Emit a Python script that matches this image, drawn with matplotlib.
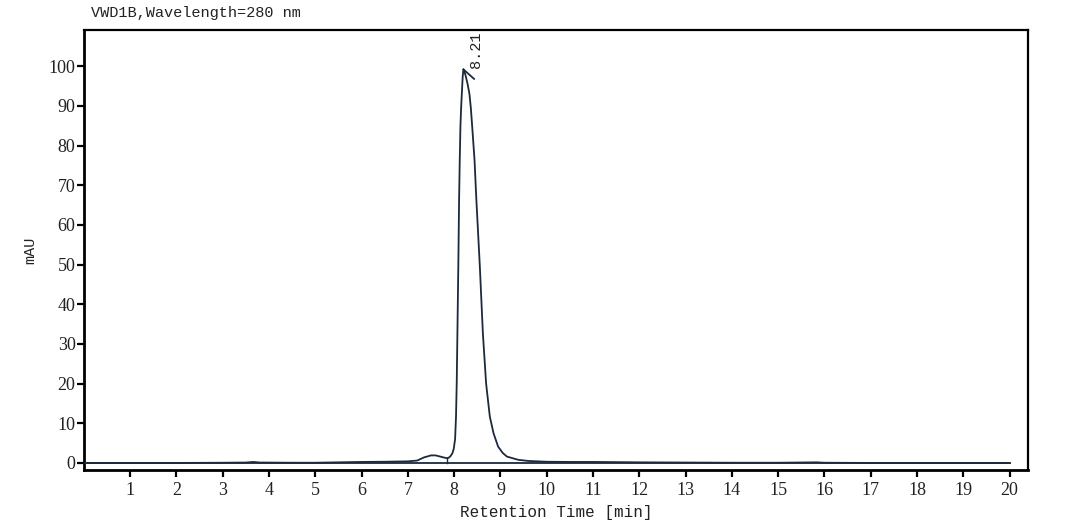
import matplotlib
matplotlib.use("Agg")
import matplotlib.pyplot as plt

# -----------------------------
# Data
# -----------------------------
time_min = [0, 1, 2, 3, 3.5, 3.66, 3.8, 4.5, 5, 5.5, 6, 6.5, 7.0, 7.2, 7.35, 7.5,
            7.6, 7.7, 7.8, 7.84, 7.88, 7.92, 7.96, 7.99, 8.02, 8.04, 8.055, 8.07,
            8.09, 8.106, 8.12, 8.135, 8.15, 8.165, 8.185, 8.2, 8.215, 8.25, 8.29,
            8.33, 8.36, 8.39, 8.44, 8.48, 8.555, 8.62, 8.69, 8.77, 8.85, 8.95,
            9.05, 9.14, 9.38, 9.6, 10, 10.5, 11, 11.5, 12, 13, 14, 15, 15.83,
            16, 17, 18, 19, 20]
signal_mau = [0.0, 0.0, 0.0, 0.05, 0.1, 0.25, 0.1, 0.05, 0.05, 0.15, 0.25, 0.3,
              0.4, 0.6, 1.4, 1.9, 1.9, 1.6, 1.3, 1.2, 1.3, 1.7, 2.4, 3.5, 6.0,
              11.7, 20.0, 32.7, 50.0, 66.0, 76.0, 84.7, 89.5, 93.0, 97.5, 99.2,
              98.9, 97.5, 95.5, 93.0, 89.5, 84.7, 76.3, 66.2, 49.4, 32.7, 20.0,
              11.7, 7.5, 4.1, 2.5, 1.6, 0.8, 0.5, 0.3, 0.25, 0.25, 0.2, 0.15,
              0.1, 0.05, 0.05, 0.15, 0.05, 0.0, 0.0, 0.0, 0.0]

peak_time = 8.2
peak_height = 99.2
valley_time = 7.84
valley_height = 1.2

x_ticks = list(range(1, 21))
y_ticks = list(range(0, 101, 10))

LINE_COLOR = "#1c2a3c"
NUM_FONT = "Liberation Serif"
MONO_FONT = "Liberation Mono"

# -----------------------------
# Plot
# -----------------------------
fig = plt.figure(figsize=(10.75, 5.28), dpi=100)
ax = fig.add_axes([0.078, 0.110, 0.878, 0.833])

ax.plot(time_min, signal_mau, color=LINE_COLOR, lw=1.3, zorder=3)
# baseline + drop line
ax.plot([0, 20], [0, 0], color=LINE_COLOR, lw=1.3, zorder=2)
ax.plot([valley_time, valley_time], [0, valley_height], color=LINE_COLOR, lw=1.0)
# peak marker and label
ax.plot([peak_time, peak_time + 0.23], [peak_height, peak_height - 2.4],
        color=LINE_COLOR, lw=1.3)
ax.text(peak_time + 0.13, peak_height + 0.4, "8.21", rotation=90,
        ha="left", va="bottom", fontsize=11, family=MONO_FONT, color="#222222")

ax.set_xlim(0, 20.39)
ax.set_ylim(-1.76, 109.1)
ax.set_xticks(x_ticks)
ax.set_yticks(y_ticks)

for lab in ax.get_xticklabels() + ax.get_yticklabels():
    lab.set_family(NUM_FONT)
    lab.set_fontsize(13)
    lab.set_color("#222222")

ax.tick_params(axis="both", direction="out", length=5, width=1.6, color="black")
ax.tick_params(axis="x", pad=4)
ax.tick_params(axis="y", pad=1)

for side in ["left", "bottom"]:
    ax.spines[side].set_linewidth(2.0)
for side in ["top", "right"]:
    ax.spines[side].set_linewidth(1.6)

ax.set_xlabel("Retention Time [min]", family=MONO_FONT, fontsize=11.5,
              color="#222222", labelpad=4)
ax.set_ylabel("mAU", family=MONO_FONT, fontsize=11, color="#222222", labelpad=8)

fig.text(0.0847, 0.975, "VWD1B,Wavelength=280 nm", family=MONO_FONT,
         fontsize=11, va="center", ha="left", color="#222222")

fig.savefig("out.png", dpi=100, facecolor="white")
